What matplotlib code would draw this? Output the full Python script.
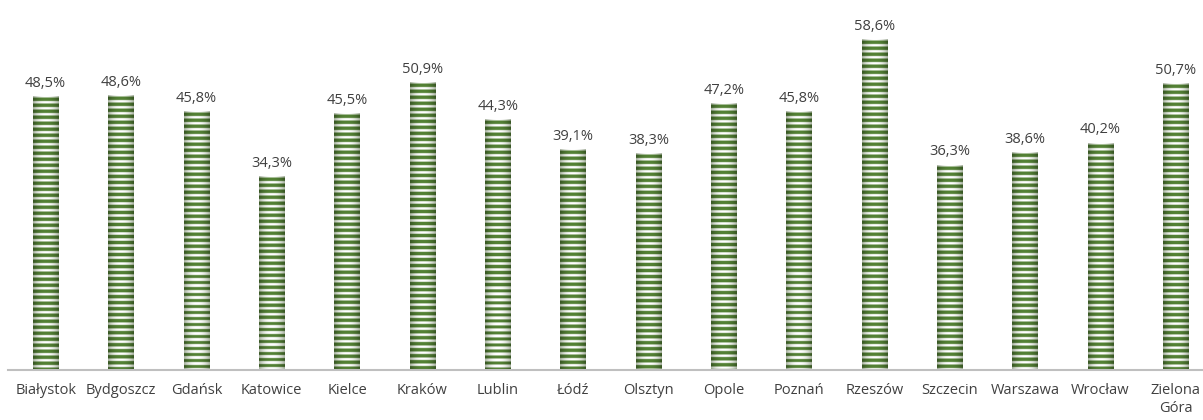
import matplotlib
matplotlib.use("Agg")
import matplotlib.pyplot as plt
import numpy as np

plt.rcParams['font.family'] = ['Open Sans', 'DejaVu Sans']

cities = ['Białystok', 'Bydgoszcz', 'Gdańsk', 'Katowice', 'Kielce', 'Kraków',
          'Lublin', 'Łódź', 'Olsztyn', 'Opole', 'Poznań', 'Rzeszów',
          'Szczecin', 'Warszawa', 'Wrocław', 'Zielona\nGóra']
shares = [48.5, 48.6, 45.8, 34.3, 45.5, 50.9, 44.3, 39.1, 38.3, 47.2, 45.8, 58.6,
          36.3, 38.6, 40.2, 50.7]

text_col = '#404040'
green = np.array([84, 130, 53]) / 255
edge_grey = np.array([168, 178, 160]) / 255

fig = plt.figure(figsize=(12.03, 4.2), dpi=100)
ax = fig.add_axes([8 / 1203, 50 / 420, 1 - 8 / 1203, 367 / 420])

x = np.arange(len(cities))
width = 0.34
bars = ax.bar(x, shares, width, color='none', linewidth=0, zorder=2)

ax.set_xlim(-0.5, 15.36)
ax.set_ylim(0, 65)

# striped fill with a soft cylinder-like shading across each bar
px_per_unit = 367 / 65
period = 6 / px_per_unit
cols = np.linspace(-1, 1, 64)
shade = np.abs(cols) ** 2.2
for b, v in zip(bars, shares):
    n = int(np.ceil(v / period * 12))
    depth = (np.arange(n) + 0.5) / n * v  # distance from bar top
    phase = ((depth - period * 0.25) / period) % 1.0
    is_green = (phase < 0.55)[:, None, None]
    white_part = (1 - shade)[None, :, None] * np.ones(3) + shade[None, :, None] * edge_grey
    green_part = (1 - 0.35 * shade)[None, :, None] * green
    img = np.where(is_green, green_part, white_part)
    img = np.broadcast_to(img, (n, len(cols), 3))
    ax.imshow(img, extent=[b.get_x(), b.get_x() + b.get_width(), 0, v],
              origin='upper', aspect='auto', interpolation='bilinear', zorder=1)
    ax.annotate(f'{v:.1f}%'.replace('.', ','), (b.get_x() + b.get_width() / 2, v),
                xytext=(0, 4), textcoords='offset points', ha='center', va='bottom',
                fontsize=10.5, color=text_col)

ax.set_xticks(x)
ax.set_xticklabels(cities, fontsize=10.5, color=text_col, linespacing=1.3)
ax.tick_params(axis='x', length=0, pad=9)
ax.set_yticks([])
for s in ['top', 'right', 'left']:
    ax.spines[s].set_visible(False)
ax.spines['bottom'].set_color('#bfbfbf')
ax.spines['bottom'].set_linewidth(1.5)
ax.spines['bottom'].set_zorder(3)

fig.savefig('out.png', dpi=100)
